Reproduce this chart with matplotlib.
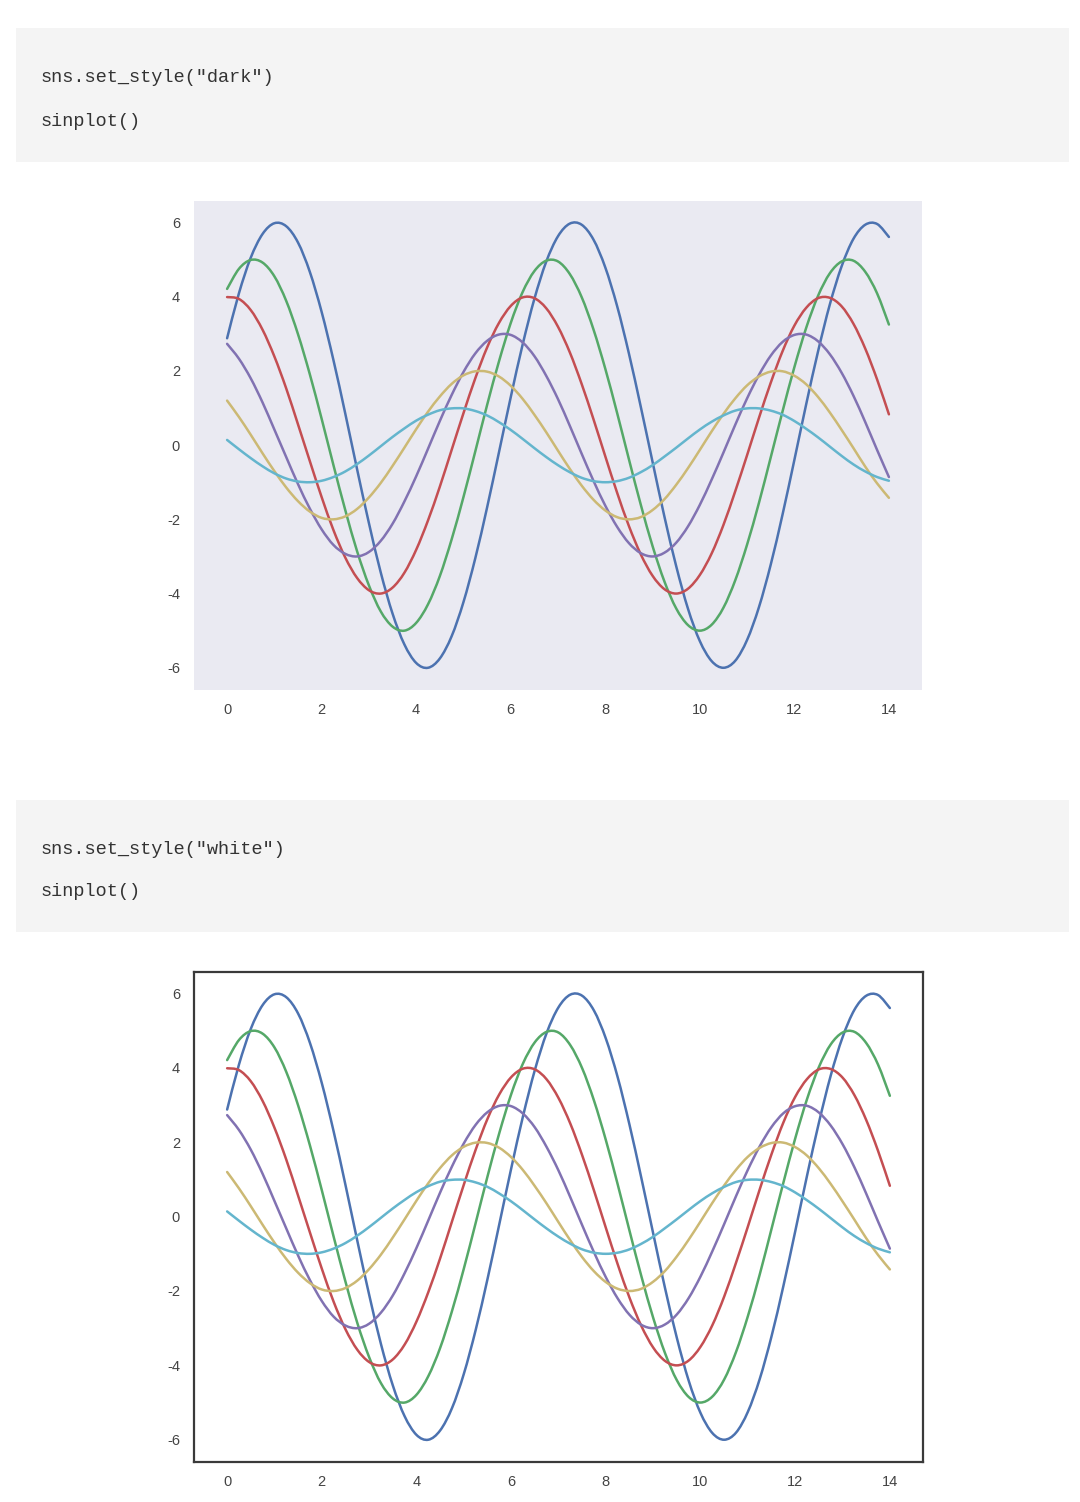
import numpy as np
import matplotlib
matplotlib.use("Agg")
import matplotlib.pyplot as plt
from matplotlib.patches import Rectangle, PathPatch
from matplotlib.path import Path

plt.rcParams["axes.unicode_minus"] = False

# ---- data ----
x_values = np.linspace(0, 14, 57)

curve1 = [2.88, 4.09, 5.05, 5.69, 5.98, 5.90, 5.46, 4.67, 3.59, 2.29, 0.85, -0.65, -2.10, -3.43,
          -4.54, -5.37, -5.87, -6.00, -5.75, -5.15, -4.23, -3.05, -1.68, -0.20, 1.29, 2.70, 3.94,
          4.94, 5.63, 5.97, 5.94, 5.54, 4.79, 3.75, 2.47, 1.04, -0.45, -1.92, -3.26, -4.41, -5.28,
          -5.82, -6.00, -5.81, -5.25, -4.37, -3.22, -1.87, -0.40, 1.10, 2.52, 3.79, 4.82, 5.56,
          5.94, 5.96, 5.61]
curve2 = [4.21, 4.75, 4.99, 4.92, 4.55, 3.89, 2.99, 1.91, 0.71, -0.54, -1.75, -2.86, -3.78, -4.48,
          -4.89, -5.00, -4.79, -4.29, -3.53, -2.54, -1.40, -0.17, 1.08, 2.25, 3.29, 4.12, 4.69,
          4.97, 4.95, 4.61, 3.99, 3.12, 2.06, 0.87, -0.38, -1.60, -2.72, -3.67, -4.40, -4.85,
          -5.00, -4.84, -4.38, -3.64, -2.68, -1.56, -0.33, 0.91, 2.10, 3.16, 4.02, 4.63, 4.95,
          4.97, 4.67, 4.09, 3.25]
curve3 = [3.99, 3.94, 3.64, 3.11, 2.39, 1.53, 0.56, -0.43, -1.40, -2.29, -3.03, -3.58, -3.91, -4.00,
          -3.84, -3.44, -2.82, -2.03, -1.12, -0.13, 0.86, 1.80, 2.63, 3.29, 3.75, 3.98, 3.96,
          3.69, 3.19, 2.50, 1.65, 0.70, -0.30, -1.28, -2.18, -2.94, -3.52, -3.88, -4.00, -3.87,
          -3.50, -2.92, -2.15, -1.24, -0.27, 0.73, 1.68, 2.53, 3.22, 3.70, 3.96, 3.97, 3.74,
          3.27, 2.60, 1.77, 0.83]
curve4 = [2.73, 2.33, 1.80, 1.15, 0.42, -0.32, -1.05, -1.71, -2.27, -2.69, -2.93, -3.00, -2.88, -2.58,
          -2.12, -1.52, -0.84, -0.10, 0.65, 1.35, 1.97, 2.47, 2.81, 2.98, 2.97, 2.77, 2.40,
          1.87, 1.24, 0.52, -0.23, -0.96, -1.63, -2.20, -2.64, -2.91, -3.00, -2.90, -2.63, -2.19,
          -1.61, -0.93, -0.20, 0.55, 1.26, 1.89, 2.41, 2.78, 2.97, 2.98, 2.80, 2.45, 1.95,
          1.33, 0.62, -0.13, -0.86]
curve5 = [1.20, 0.76, 0.28, -0.22, -0.70, -1.14, -1.51, -1.79, -1.96, -2.00, -1.92, -1.72, -1.41, -1.02,
          -0.56, -0.07, 0.43, 0.90, 1.31, 1.65, 1.88, 1.99, 1.98, 1.85, 1.60, 1.25, 0.82,
          0.35, -0.15, -0.64, -1.09, -1.47, -1.76, -1.94, -2.00, -1.94, -1.75, -1.46, -1.07, -0.62,
          -0.13, 0.37, 0.84, 1.26, 1.61, 1.85, 1.98, 1.99, 1.87, 1.64, 1.30, 0.88, 0.41,
          -0.08, -0.58, -1.03, -1.42]
curve6 = [0.14, -0.11, -0.35, -0.57, -0.76, -0.90, -0.98, -1.00, -0.96, -0.86, -0.71, -0.51, -0.28, -0.03,
          0.22, 0.45, 0.66, 0.82, 0.94, 0.99, 0.99, 0.92, 0.80, 0.62, 0.41, 0.17, -0.08,
          -0.32, -0.54, -0.73, -0.88, -0.97, -1.00, -0.97, -0.88, -0.73, -0.54, -0.31, -0.07, 0.18,
          0.42, 0.63, 0.80, 0.93, 0.99, 0.99, 0.93, 0.82, 0.65, 0.44, 0.21, -0.04, -0.29,
          -0.52, -0.71, -0.86, -0.96]

curves = [curve1, curve2, curve3, curve4, curve5, curve6]
colors = ["#4C72B0", "#55A868", "#C44E52", "#8172B2", "#CCB974", "#64B5CD"]

code_blocks = [['sns.set_style("dark")', 'sinplot()'],
               ['sns.set_style("white")', 'sinplot()']]
x_ticks = [0, 2, 4, 6, 8, 10, 12, 14]
y_ticks = [-6, -4, -2, 0, 2, 4, 6]

# ---- figure ----
W, H = 1080, 1502
fig = plt.figure(figsize=(W / 100, H / 100), dpi=100)
fig.patch.set_facecolor("white")


def px_rect(x0, y0, x1, y1):
    return [x0 / W, 1 - y1 / H, (x1 - x0) / W, (y1 - y0) / H]


def code_block(y0, y1, lines, ys):
    l, b, w, h = px_rect(16, y0, 1069, y1)
    fig.add_artist(Rectangle((l, b), w, h, transform=fig.transFigure,
                             facecolor="#f4f4f4", edgecolor="none", zorder=0))
    for txt, yy in zip(lines, ys):
        fig.text(41 / W, 1 - yy / H, txt, family="Liberation Mono", fontsize=13.4,
                 color="#333333", va="center", ha="left")


code_block(28, 162, code_blocks[0], [78, 121])
code_block(800, 932, code_blocks[1], [850, 892])


def smooth_path(xs, ys):
    """Draw a smooth line through the read points (Catmull-Rom as cubic Beziers)."""
    p = np.column_stack([xs, ys])
    n = len(p)
    verts = [p[0]]
    codes = [Path.MOVETO]
    for i in range(n - 1):
        p_prev = p[i - 1] if i > 0 else p[i]
        p_next2 = p[i + 2] if i + 2 < n else p[i + 1]
        c1 = p[i] + (p[i + 1] - p_prev) / 6.0
        c2 = p[i + 1] - (p_next2 - p[i]) / 6.0
        verts += [c1, c2, p[i + 1]]
        codes += [Path.CURVE4] * 3
    return Path(np.array(verts), codes)


def sinplot(ax):
    for y, c in zip(curves, colors):
        xs = x_values[:len(y)]
        ys = np.asarray(y)
        patch = PathPatch(smooth_path(xs, ys), facecolor="none", edgecolor=c,
                          lw=1.8, capstyle="round", joinstyle="round")
        ax.add_artist(patch)
        ax.update_datalim(np.column_stack([xs, ys]))
    ax.autoscale_view()
    ax.set_xticks(x_ticks)
    ax.set_yticks(y_ticks)
    ax.tick_params(axis="both", length=0, labelsize=10.5, labelcolor="#444444")
    ax.tick_params(axis="y", pad=10)
    ax.tick_params(axis="x", pad=9)
    for lab in ax.get_xticklabels() + ax.get_yticklabels():
        lab.set_family("Liberation Sans")


# dark style
ax1 = fig.add_axes(px_rect(194, 201, 922, 690))
ax1.set_facecolor("#EAEAF2")
sinplot(ax1)
for s in ax1.spines.values():
    s.set_visible(False)

# white style
ax2 = fig.add_axes(px_rect(194, 972, 923, 1462))
ax2.set_facecolor("white")
sinplot(ax2)
for s in ax2.spines.values():
    s.set_color("#3a3a3a")
    s.set_linewidth(1.6)

fig.savefig("out.png", dpi=100)
